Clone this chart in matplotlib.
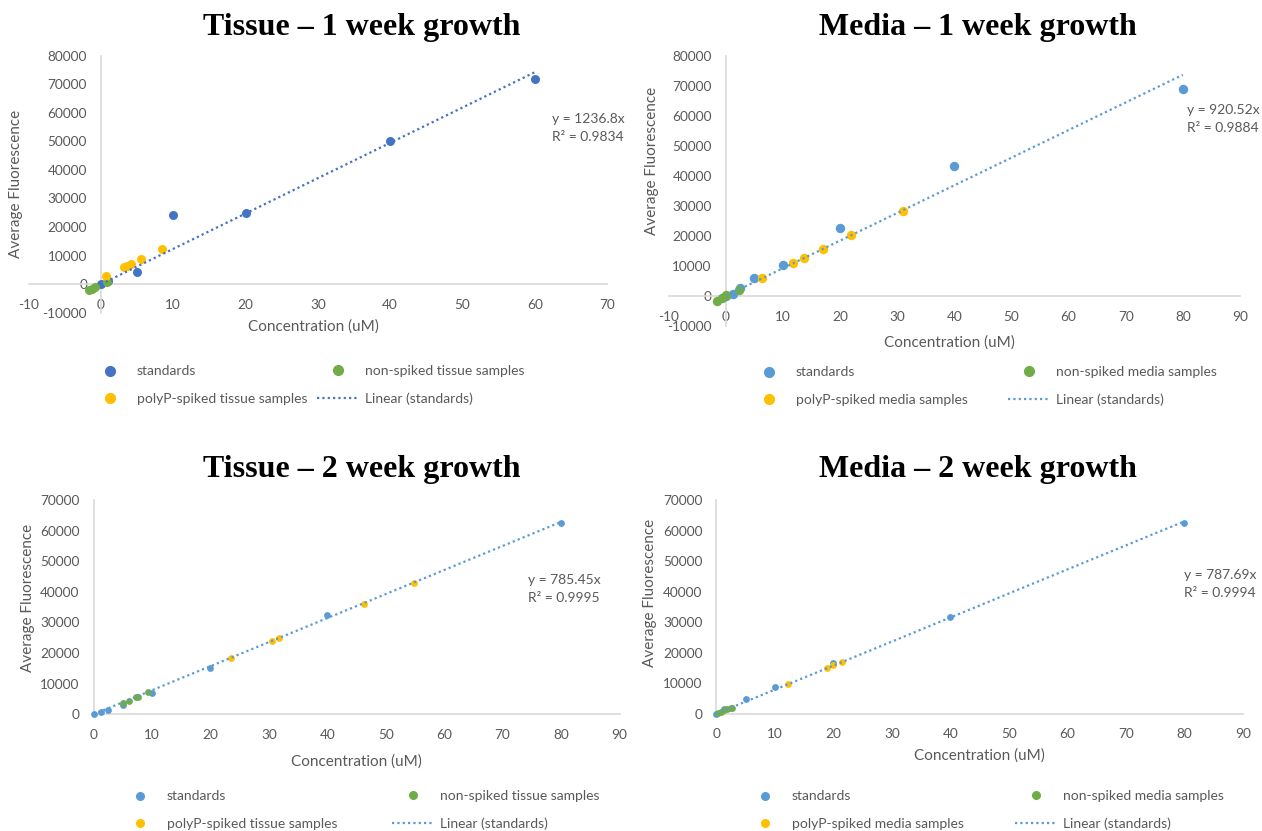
import matplotlib
matplotlib.use("Agg")
import matplotlib.pyplot as plt
from matplotlib.lines import Line2D

W, H = 1262, 831
GREY = "#595959"
AXIS = "#D9D9D9"
GREEN = "#70AD47"
GOLD = "#FFC000"

plt.rcParams["font.family"] = ["Lato", "DejaVu Sans"]
plt.rcParams["axes.unicode_minus"] = False

# Tissue, 1 week growth
t1_std_x = [0, 1, 5, 10, 20, 40, 60]
t1_std_y = [0, 1200, 4200, 24300, 24900, 50300, 72000]
t1_non_x = [-1.6, -1.3, -0.8, 0.8]
t1_non_y = [-2100, -1600, -950, 600]
t1_spk_x = [0.7, 3.2, 3.6, 4.1, 5.6, 8.4]
t1_spk_y = [3000, 5900, 6500, 7100, 8900, 12300]
t1_fit = (1236.8, "0.9834")

# Media, 1 week growth
m1_std_x = [0, 1.25, 2.5, 5, 10, 20, 40, 80]
m1_std_y = [0, 500, 2500, 6100, 10400, 22750, 43400, 68900]
m1_non_x = [-1.5, -0.6, 0.1, 2.3]
m1_non_y = [-1600, -550, 200, 2100]
m1_spk_x = [6.4, 11.8, 13.7, 17.1, 22.0, 31.0]
m1_spk_y = [5900, 11000, 12650, 15550, 20400, 28400]
m1_fit = (920.52, "0.9884")

# Tissue, 2 week growth
t2_std_x = [0, 1.25, 2.5, 5, 10, 20, 40, 80]
t2_std_y = [0, 800, 1500, 3150, 6900, 15000, 32450, 62400]
t2_non_x = [5.0, 6.0, 7.2, 7.6, 9.4]
t2_non_y = [3700, 4500, 5500, 5800, 7200]
t2_spk_x = [23.5, 30.5, 31.8, 46.3, 54.8]
t2_spk_y = [18300, 23950, 25050, 36050, 42800]
t2_fit = (785.45, "0.9995")

# Media, 2 week growth
m2_std_x = [0, 1.25, 2.5, 5, 10, 20, 40, 80]
m2_std_y = [0, 1700, 2000, 4700, 8850, 16700, 31550, 62400]
m2_non_x = [0.35, 0.8, 1.4, 1.9, 2.6]
m2_non_y = [100, 650, 1200, 1400, 1950]
m2_spk_x = [12.2, 19.0, 20.0, 21.4]
m2_spk_y = [9600, 14850, 15850, 16800]
m2_fit = (787.69, "0.9994")


def fx(px):
    return px / W


def fy(py):
    return 1 - py / H


def draw_panel(fig, box, data, std_color, msize, xlim, ylim, title, title_pos,
               xlab_pos, ylab_pos, eq_pos, leg_cols, leg_mid, sample, leg_ms):
    left, right, top, bottom = box
    ax = fig.add_axes([fx(left), fy(bottom), (right - left) / W, (bottom - top) / H])
    sx, sy, nx, ny, px_, py_, (slope, r2) = data

    ax.scatter(sx, sy, s=msize, color=std_color, zorder=3, clip_on=False, linewidths=0)
    ax.scatter(nx, ny, s=msize, color=GREEN, zorder=3, clip_on=False, linewidths=0)
    ax.scatter(px_, py_, s=msize, color=GOLD, zorder=3, clip_on=False, linewidths=0)
    lx = [min(sx), max(sx)]
    ax.plot(lx, [slope * v for v in lx], color=std_color, lw=1.6,
            linestyle=(0, (1, 1.4)), zorder=4)

    ax.set_xlim(*xlim)
    ax.set_ylim(*ylim)
    ax.set_xticks(range(xlim[0], xlim[1] + 1, 10))
    ax.set_yticks(range(ylim[0], ylim[1] + 1, 10000))
    for side in ("top", "right"):
        ax.spines[side].set_visible(False)
    for side in ("left", "bottom"):
        ax.spines[side].set_position(("data", 0))
        ax.spines[side].set_color(AXIS)
        ax.spines[side].set_linewidth(1.2)
    ax.tick_params(length=0, labelsize=9.8, labelcolor=GREY)
    ax.tick_params(axis="x", pad=10.5)
    ax.tick_params(axis="y", pad=10)
    ax.patch.set_alpha(0)

    fig.text(fx(title_pos[0]), fy(title_pos[1]), title, ha="center", va="center",
             fontsize=23, fontweight="bold", family="Liberation Serif")
    fig.text(fx(xlab_pos[0]), fy(xlab_pos[1]), "Concentration (uM)", ha="center",
             va="center", fontsize=11, color=GREY)
    fig.text(fx(ylab_pos[0]), fy(ylab_pos[1]), "Average Fluorescence", ha="center",
             va="center", rotation=90, fontsize=11, color=GREY)
    fig.text(fx(eq_pos[0]), fy(eq_pos[1]), f"y = {slope}x", ha="left", va="center",
             fontsize=10, color=GREY)
    fig.text(fx(eq_pos[0]), fy(eq_pos[1] + 18), f"R² = {r2}", ha="left", va="center",
             fontsize=10, color=GREY)

    def dot(c):
        return Line2D([], [], marker="o", linestyle="none", color=c, markersize=leg_ms)

    cols = [
        ([dot(std_color), dot(GOLD)],
         ["standards", f"polyP-spiked {sample} samples"]),
        ([dot(GREEN), Line2D([], [], color=std_color, lw=1.6, linestyle=(0, (1, 1.4)))],
         [f"non-spiked {sample} samples", "Linear (standards)"]),
    ]
    legends = []
    for (handles, labels), cx in zip(cols, leg_cols):
        leg = ax.legend(handles, labels, loc="center left",
                        bbox_to_anchor=(fx(cx), fy(leg_mid)),
                        bbox_transform=fig.transFigure, frameon=False,
                        borderpad=0, borderaxespad=0, handlelength=3,
                        handletextpad=0.45, labelspacing=1.1, fontsize=10,
                        labelcolor=GREY)
        legends.append(leg)
    # the last legend stays attached as ax.legend_, only the earlier ones need adding
    for leg in legends[:-1]:
        ax.add_artist(leg)
    return ax


fig = plt.figure(figsize=(W / 100, H / 100), dpi=100)

draw_panel(fig, (28.7, 607, 55.7, 312.7),
           (t1_std_x, t1_std_y, t1_non_x, t1_non_y, t1_spk_x, t1_spk_y, t1_fit),
           "#4472C4", 42, (-10, 70), (-10000, 80000),
           "Tissue – 1 week growth", (362, 27), (313, 327), (16, 184),
           (552, 119), (89, 317), 385, "tissue", 7)

draw_panel(fig, (668.5, 1240, 55.7, 326),
           (m1_std_x, m1_std_y, m1_non_x, m1_non_y, m1_spk_x, m1_spk_y, m1_fit),
           "#5B9BD5", 46, (-10, 90), (-10000, 80000),
           "Media – 1 week growth", (978, 27), (949, 343), (652, 161),
           (1187, 110), (748, 1008), 386, "media", 7)

draw_panel(fig, (93.5, 619.5, 500, 714.3),
           (t2_std_x, t2_std_y, t2_non_x, t2_non_y, t2_spk_x, t2_spk_y, t2_fit),
           "#5B9BD5", 24, (0, 90), (0, 70000),
           "Tissue – 2 week growth", (362, 469), (356, 762), (28, 598),
           (528, 580), (119, 392), 810, "tissue", 5.5)

draw_panel(fig, (716.3, 1243, 500, 713.7),
           (m2_std_x, m2_std_y, m2_non_x, m2_non_y, m2_spk_x, m2_spk_y, m2_fit),
           "#5B9BD5", 24, (0, 90), (0, 70000),
           "Media – 2 week growth", (978, 469), (979, 756), (650, 593),
           (1184, 575), (744, 1015), 810, "media", 5.5)

fig.savefig("out.png", dpi=100)
